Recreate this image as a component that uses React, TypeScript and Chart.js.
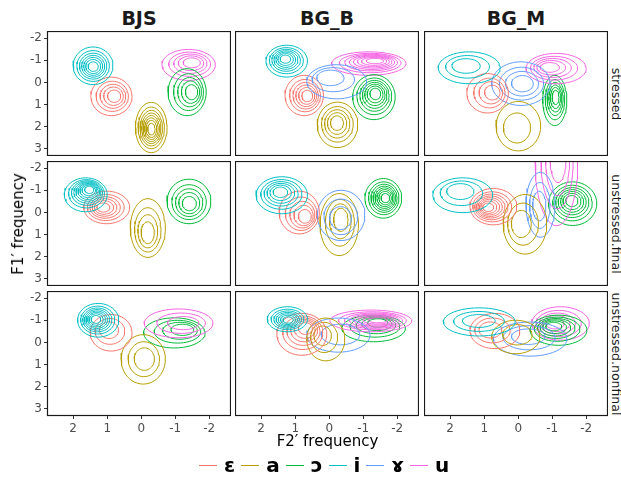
import React, { useEffect, useRef } from "react";
import { Chart, registerables } from "chart.js";
Chart.register(...registerables);

const vowels = ["ɛ", "a", "ɔ", "i", "ɤ", "u"];
const vowelColors = ["#F8766D", "#B79F00", "#00BA38", "#00BFC4", "#619CFF", "#F564E3"];
const speakers = ["BJS", "BG_B", "BG_M"];
const conditions = ["stressed", "unstressed.final", "unstressed.nonfinal"];
const xTicks = [2, 1, 0, -1, -2];
const yTicks = [-2, -1, 0, 1, 2, 3];
const xRange = [-2.64, 2.77];
const yRange = [-2.32, 3.32];

// each row: vowel index, outer F2' extent (a, b), outer F1' extent (a, b), peak F2', peak F1', number of contour rings
const bjsStressed = [
  [3, 2.0, 0.83, -1.6, 0.1, 1.41, -0.7, 7],
  [0, 1.48, 0.27, -0.24, 1.5, 0.76, 0.62, 5],
  [1, 0.17, -0.76, 0.9, 3.17, -0.3, 2.13, 8],
  [2, -0.79, -1.91, -0.62, 1.5, -1.54, 0.44, 5],
  [5, -0.61, -2.18, -1.49, -0.09, -1.53, -0.93, 5],
];
const bgbStressed = [
  [3, 1.86, 0.64, -1.68, -0.24, 1.3, -1.08, 7],
  [4, 0.66, -1.1, -0.8, 0.74, 0.12, -0.35, 3],
  [0, 1.3, 0.17, -0.32, 1.5, 0.61, 0.62, 6],
  [1, 0.35, -0.84, 0.89, 2.94, -0.22, 1.8, 5],
  [2, -0.69, -1.94, -0.35, 1.68, -1.37, 0.47, 7],
  [5, -0.07, -2.26, -1.38, -0.32, -1.4, -1.0, 8],
];
const bgmStressed = [
  [3, 2.35, 0.53, -1.38, 0.06, 1.61, -0.81, 3],
  [0, 1.51, 0.29, -0.4, 1.38, 0.68, 0.44, 4],
  [4, 0.78, -0.94, -0.93, 1.04, -0.15, 0.06, 4],
  [5, -0.23, -2.0, -1.31, 0.06, -0.84, -0.7, 5],
  [2, -0.72, -1.43, -0.32, 1.95, -1.11, 0.62, 6],
  [1, 0.65, -0.66, 0.86, 3.09, 0.1, 2.18, 2],
];
const bjsFinal = [
  [3, 2.26, 1.0, -1.56, -0.03, 1.5, -1.08, 9],
  [0, 1.69, 0.34, -0.96, 0.51, 1.15, -0.22, 6],
  [1, 0.32, -0.71, -0.62, 2.03, -0.19, 1.04, 4],
  [2, -0.76, -2.05, -1.5, 0.51, -1.42, -0.35, 5],
];
const bgbFinal = [
  [3, 2.15, 0.64, -1.61, 0.06, 1.45, -0.96, 6],
  [0, 1.47, 0.29, -0.96, 0.97, 0.64, 0.26, 5],
  [4, 0.35, -1.05, -1.0, 1.27, -0.32, 0.36, 3],
  [1, 0.27, -0.86, -0.85, 1.95, -0.37, 0.21, 4],
  [2, -1.05, -2.13, -1.53, 0.26, -1.67, -0.65, 8],
];
const bgmFinal = [
  [3, 2.51, 0.75, -1.56, 0.01, 1.76, -1.08, 3],
  [0, 1.42, 0.04, -1.08, 0.56, 0.93, -0.22, 8],
  [1, 0.44, -0.84, -0.81, 1.88, 0.0, 0.51, 3],
  [4, -0.23, -1.08, -1.81, 1.12, -0.59, -0.24, 3],
  [5, -0.5, -1.75, -5.0, 0.6, -1.2, -2.5, 4],
  [2, -0.89, -2.31, -1.38, 0.59, -1.57, -0.55, 7],
];
const bjsNonfinal = [
  [3, 1.87, 0.66, -1.76, -0.24, 1.35, -1.05, 8],
  [0, 1.5, 0.27, -1.26, 0.39, 1.0, -0.65, 3],
  [1, 0.59, -0.71, -0.35, 1.88, -0.12, 0.74, 3],
  [5, -0.09, -2.11, -1.51, -0.21, -1.35, -0.88, 3],
  [2, -0.07, -1.88, -1.11, 0.25, -1.35, -0.65, 4],
];
const bgbNonfinal = [
  [3, 1.82, 0.64, -1.61, -0.48, 1.2, -1.0, 7],
  [0, 1.54, 0.07, -1.31, 0.58, 0.66, -0.73, 6],
  [1, 0.66, -0.46, -1.1, 0.83, 0.27, -0.44, 3],
  [4, 0.66, -1.2, -1.1, 0.44, -0.42, -0.4, 2],
  [5, -0.02, -2.43, -1.46, -0.48, -1.49, -1.01, 8],
  [2, -0.37, -2.24, -1.23, -0.03, -1.49, -0.99, 5],
];
const bgmNonfinal = [
  [3, 2.2, 0.09, -1.56, -0.29, 1.17, -1.0, 3],
  [0, 1.42, -0.05, -1.31, 0.28, 0.93, -0.6, 3],
  [1, 0.78, -0.64, -1.0, 0.51, -0.05, -0.5, 2],
  [4, 0.73, -1.43, -0.92, 0.62, -0.25, -0.35, 3],
  [2, -0.35, -2.02, -1.23, 0.13, -0.99, -0.78, 6],
  [5, -0.4, -2.09, -1.61, -0.1, -1.0, -0.85, 5],
];

const panels = [
  [bjsStressed, bgbStressed, bgmStressed],
  [bjsFinal, bgbFinal, bgmFinal],
  [bjsNonfinal, bgbNonfinal, bgmNonfinal],
];

const colLeft = [47, 235, 424];
const rowTop = [31, 161, 291];
const PW = 184;
const PH = 125;
const YAXIS_W = 40;
const XAXIS_H = 25;

function ringDatasets(rows: number[][]) {
  const sets: any[] = [];
  rows.forEach((r) => {
    const [v, xa, xb, ya, yb, px, py, n] = r;
    const cx = (xa + xb) / 2;
    const cy = (ya + yb) / 2;
    const rx = Math.abs(xa - xb) / 2;
    const ry = Math.abs(ya - yb) / 2;
    const norm = Math.sqrt(2 * Math.log(n + 1));
    for (let k = 1; k <= n; k++) {
      const s = Math.sqrt(-2 * Math.log(k / (n + 1))) / norm;
      const ccx = px + (cx - px) * s;
      const ccy = py + (cy - py) * s;
      const pts: { x: number; y: number }[] = [];
      for (let j = 0; j <= 48; j++) {
        const t = (j / 48) * Math.PI * 2;
        pts.push({ x: ccx + rx * s * Math.cos(t), y: ccy + ry * s * Math.sin(t) });
      }
      sets.push({
        data: pts,
        showLine: true,
        borderColor: vowelColors[v],
        borderWidth: 1,
        pointRadius: 0,
        fill: false,
        tension: 0,
      });
    }
  });
  return sets;
}

const borderPlugin = {
  id: "panelBorder",
  afterDraw(chart: any) {
    const { ctx, chartArea: a } = chart;
    ctx.save();
    ctx.strokeStyle = "#1a1a1a";
    ctx.lineWidth = 1.2;
    ctx.strokeRect(a.left + 0.5, a.top + 0.5, a.right - a.left - 1, a.bottom - a.top - 1);
    ctx.restore();
  },
};

function Panel({ rows, showX, showY, left, top }: any) {
  const ref = useRef<HTMLCanvasElement>(null);
  const w = PW + (showY ? YAXIS_W : 0);
  const h = PH + (showX ? XAXIS_H : 0);
  useEffect(() => {
    const zero = (s: any) => {
      s.paddingLeft = 0;
      s.paddingRight = 0;
      s.paddingTop = 0;
      s.paddingBottom = 0;
    };
    const chart = new Chart(ref.current as HTMLCanvasElement, {
      type: "scatter",
      data: { datasets: ringDatasets(rows) },
      options: {
        responsive: false,
        animation: false,
        devicePixelRatio: 1,
        layout: { padding: 0 },
        plugins: { legend: { display: false }, tooltip: { enabled: false } },
        scales: {
          x: {
            type: "linear",
            min: xRange[0],
            max: xRange[1],
            reverse: true,
            display: showX,
            grid: { drawOnChartArea: false, drawTicks: true, tickLength: 3, color: "#333333" },
            border: { display: false },
            ticks: { color: "#4D4D4D", font: { size: 12, family: "DejaVu Sans" }, padding: 3, autoSkip: false, maxRotation: 0 },
            afterBuildTicks: (s: any) => {
              s.ticks = xTicks.map((v) => ({ value: v }));
            },
            afterFit: showX
              ? (s: any) => {
                  s.height = XAXIS_H;
                  zero(s);
                }
              : undefined,
          },
          y: {
            type: "linear",
            min: yRange[0],
            max: yRange[1],
            reverse: true,
            display: showY,
            grid: { drawOnChartArea: false, drawTicks: true, tickLength: 3, color: "#333333" },
            border: { display: false },
            ticks: { color: "#4D4D4D", font: { size: 12, family: "DejaVu Sans" }, padding: 2, autoSkip: false },
            afterBuildTicks: (s: any) => {
              s.ticks = yTicks.map((v) => ({ value: v }));
            },
            afterFit: showY
              ? (s: any) => {
                  s.width = YAXIS_W;
                  zero(s);
                }
              : undefined,
          },
        },
      } as any,
      plugins: [borderPlugin],
    });
    return () => chart.destroy();
  }, []);
  return (
    <div style={{ position: "absolute", left: left - (showY ? YAXIS_W : 0), top, width: w, height: h }}>
      <canvas ref={ref} width={w} height={h} style={{ width: w, height: h, display: "block" }} />
    </div>
  );
}

export default function App() {
  const font = "DejaVu Sans";
  return (
    <div style={{ position: "absolute", left: 0, top: 0, width: 621, height: 477, background: "#fff", fontFamily: font, overflow: "hidden" }}>
      {panels.map((row, ri) =>
        row.map((rows, ci) => (
          <Panel key={ri + "-" + ci} rows={rows} showX={ri === 2} showY={ci === 0} left={colLeft[ci]} top={rowTop[ri]} />
        ))
      )}
      {speakers.map((s, ci) => (
        <div key={s} style={{ position: "absolute", left: colLeft[ci], top: 7, width: PW, textAlign: "center", fontWeight: "bold", fontSize: 19, color: "#1a1a1a", lineHeight: "22px" }}>
          {s}
        </div>
      ))}
      {conditions.map((c, ri) => (
        <div key={c} style={{ position: "absolute", left: 616, top: rowTop[ri] + PH / 2, transform: "translate(-50%, -50%) rotate(90deg)", whiteSpace: "nowrap", fontSize: 12.5, color: "#1a1a1a", lineHeight: "14px" }}>
          {c}
        </div>
      ))}
      <div style={{ position: "absolute", left: 18, top: 224, transform: "translate(-50%, -50%) rotate(-90deg)", whiteSpace: "nowrap", fontSize: 15, color: "#000" }}>
        F1′ frequency
      </div>
      <div style={{ position: "absolute", left: colLeft[0], top: 432, width: colLeft[2] + PW - colLeft[0], textAlign: "center", fontSize: 15, color: "#000", lineHeight: "18px" }}>
        F2′ frequency
      </div>
      <div style={{ position: "absolute", left: 199, top: 452, height: 26, display: "flex", alignItems: "center" }}>
        {vowels.map((v, i) => (
          <div key={v} style={{ display: "flex", alignItems: "center", marginRight: 6 }}>
            <div style={{ width: 18, height: 1, background: vowelColors[i], marginRight: 7 }} />
            <span style={{ fontWeight: "bold", fontSize: 20, color: "#000", lineHeight: "24px" }}>{v}</span>
          </div>
        ))}
      </div>
    </div>
  );
}
